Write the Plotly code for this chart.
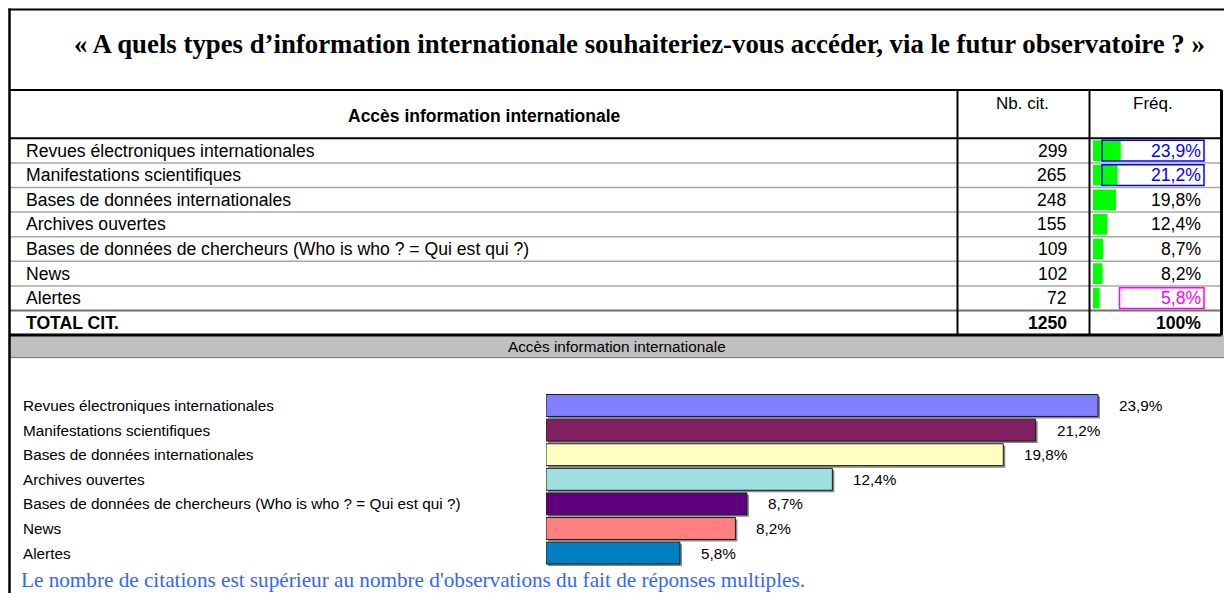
import plotly.graph_objects as go

# ---------------- data ----------------
title_text = "« A quels types d’information internationale souhaiteriez-vous accéder, via le futur observatoire ? »"
header_label = "Accès information internationale"
header_count = "Nb. cit."
header_freq = "Fréq."
chart_title = "Accès information internationale"
footnote = "Le nombre de citations est supérieur au nombre d'observations du fait de réponses multiples."

categories = [
    "Revues électroniques internationales",
    "Manifestations scientifiques",
    "Bases de données internationales",
    "Archives ouvertes",
    "Bases de données de chercheurs (Who is who ? = Qui est qui ?)",
    "News",
    "Alertes",
]
citations = [299, 265, 248, 155, 109, 102, 72]
frequencies = [23.9, 21.2, 19.8, 12.4, 8.7, 8.2, 5.8]
freq_labels = ["23,9%", "21,2%", "19,8%", "12,4%", "8,7%", "8,2%", "5,8%"]
total_label = "TOTAL CIT."
total_citations = 1250
total_freq_label = "100%"
freq_highlight = ["#0000FF", "#0000FF", None, None, None, None, "#FF00FF"]
bar_colors = ["#8080FF", "#802060", "#FFFFC0", "#A0E0E0", "#600080", "#FF8080", "#0080C0"]

# ---------------- geometry helpers ----------------
W, H = 1224, 593


def fx(x):
    return x / W


def fy(y):
    return 1 - y / H


SANS = "Liberation Sans, Arial, Helvetica, sans-serif"
SERIF = "Liberation Serif, Times New Roman, Times, serif"

T_TOP = 90
HEAD_BOT = 138.3
ROW_H = 24.6
N_ROWS = len(categories) + 1
T_BOT = HEAD_BOT + N_ROWS * ROW_H
X_LEFT = 9.5
X_C1 = 957.5
X_C2 = 1089.5
X_RIGHT = 1221.5

# table mini bars
MINI_X0 = 1093
MINI_PX_PER_PCT = 1.16

# lower chart
BAR_X0 = 546
BAR_PX_PER_PCT = 552 / 23.9
BAND_TOP = 393.2
BAND_BOT = 565.4
SH = 2  # shadow offset (px)

table_rows = categories + [total_label]

fig = go.Figure()

# shadow bars (lower chart) - drawn first (subplot xy)
fig.add_trace(go.Bar(
    x=frequencies, y=categories, orientation="h",
    marker=dict(color="#8a8a8a", line=dict(width=0)),
    xaxis="x", yaxis="y", hoverinfo="skip", showlegend=False,
))
# green mini bars in the table
fig.add_trace(go.Bar(
    x=frequencies, y=categories, orientation="h",
    marker=dict(color="#00FF00", line=dict(width=0)),
    width=0.84,
    xaxis="x2", yaxis="y2", showlegend=False,
))
# main bars (lower chart) - drawn over the shadow (subplot x3y3)
fig.add_trace(go.Bar(
    x=frequencies, y=categories, orientation="h",
    marker=dict(color=bar_colors, line=dict(color="#1a1a1a", width=1)),
    xaxis="x3", yaxis="y3", showlegend=False,
))

hidden = dict(visible=False, showgrid=False, zeroline=False, fixedrange=True)

fig.update_layout(
    width=W, height=H, autosize=False,
    margin=dict(l=0, r=0, t=0, b=0),
    paper_bgcolor="white", plot_bgcolor="rgba(0,0,0,0)",
    bargap=0.11,
    showlegend=False,
    xaxis=dict(domain=[fx(BAR_X0 + SH), 1], range=[0, (W - BAR_X0 - SH) / BAR_PX_PER_PCT], **hidden),
    yaxis=dict(domain=[fy(BAND_BOT + SH), fy(BAND_TOP + SH)], type="category",
               categoryorder="array", categoryarray=categories,
               range=[len(categories) - 0.5, -0.5], **hidden),
    xaxis2=dict(domain=[fx(MINI_X0), fx(X_RIGHT)],
                range=[0, (X_RIGHT - MINI_X0) / MINI_PX_PER_PCT], anchor="y2", **hidden),
    yaxis2=dict(domain=[fy(T_BOT), fy(HEAD_BOT)], type="category",
                categoryorder="array", categoryarray=table_rows,
                range=[N_ROWS - 0.5, -0.5], anchor="x2", **hidden),
    xaxis3=dict(domain=[fx(BAR_X0), 1], range=[0, (W - BAR_X0) / BAR_PX_PER_PCT],
                anchor="y3", **hidden),
    yaxis3=dict(domain=[fy(BAND_BOT), fy(BAND_TOP)], type="category",
                categoryorder="array", categoryarray=categories,
                range=[len(categories) - 0.5, -0.5], anchor="x3", **hidden),
)

shapes = []


def hline(y, x0, x1, color, width):
    shapes.append(dict(type="line", xref="paper", yref="paper",
                       x0=fx(x0), x1=fx(x1), y0=fy(y), y1=fy(y),
                       line=dict(color=color, width=width), layer="above"))


def vline(x, y0, y1, color, width):
    shapes.append(dict(type="line", xref="paper", yref="paper",
                       x0=fx(x), x1=fx(x), y0=fy(y0), y1=fy(y1),
                       line=dict(color=color, width=width), layer="above"))


# gray band under the table
shapes.append(dict(type="rect", xref="paper", yref="paper",
                   x0=fx(X_LEFT), x1=1, y0=fy(T_BOT + 22.5), y1=fy(T_BOT),
                   fillcolor="#C0C0C0", line=dict(width=0), layer="below"))
hline(T_BOT + 22.5, X_LEFT, W, "#707070", 1)

# highlight boxes in the Fréq. column
for i, col in enumerate(freq_highlight):
    if col:
        x0 = 1102 if col == "#0000FF" else 1119.5
        shapes.append(dict(type="rect", xref="paper", yref="y2",
                           x0=fx(x0), x1=fx(1204), y0=i - 0.42, y1=i + 0.42,
                           line=dict(color=col, width=1.5), layer="above"))

# row separators
for k in range(1, N_ROWS):
    y = HEAD_BOT + k * ROW_H
    if k == N_ROWS - 1:
        hline(y, X_LEFT, X_RIGHT, "#707070", 2)
    else:
        hline(y, X_LEFT, X_RIGHT, "#A8A8A8", 1.5)

# table frame
hline(T_TOP, X_LEFT, X_RIGHT, "black", 2)
hline(HEAD_BOT, X_LEFT, X_RIGHT, "black", 2)
hline(T_BOT, X_LEFT, X_RIGHT, "black", 3)
vline(X_C1, T_TOP, T_BOT, "black", 2)
vline(X_C2, T_TOP, T_BOT, "black", 2)
vline(X_RIGHT, T_TOP, T_BOT, "black", 3)

# outer frame
hline(9.5, X_LEFT - 1, W, "black", 2)
vline(X_LEFT, 8.5, H, "black", 2.5)

fig.update_layout(shapes=shapes)

ann = []


def text(x, y, s, size, xanchor="center", color="black", family=SANS, xref="paper", yref="paper", xshift=0):
    ann.append(dict(x=x, y=y, xref=xref, yref=yref, text=s, showarrow=False,
                    xanchor=xanchor, yanchor="middle", xshift=xshift,
                    font=dict(family=family, size=size, color=color)))


text(fx(639), fy(44), "<b>" + title_text + "</b>", 26.8, family=SERIF)
text(fx(484), fy(116), "<b>" + header_label + "</b>", 17.5)
text(fx(1022), fy(103), header_count, 17)
text(fx(1153), fy(103), header_freq, 17)

for i, cat in enumerate(categories):
    text(fx(24), cat, cat, 17.6, xanchor="left", yref="y2")
    text(fx(1069), cat, str(citations[i]), 17.6, xanchor="right", yref="y2")
    text(fx(1203), cat, freq_labels[i], 17.6, xanchor="right", yref="y2",
         color=freq_highlight[i] or "black")

text(fx(24), total_label, "<b>" + total_label + "</b>", 17.6, xanchor="left", yref="y2")
text(fx(1069), total_label, "<b>" + str(total_citations) + "</b>", 17.6, xanchor="right", yref="y2")
text(fx(1203), total_label, "<b>" + total_freq_label + "</b>", 17.6, xanchor="right", yref="y2")

text(fx(617), fy(T_BOT + 11.5), chart_title, 15.3)

for i, cat in enumerate(categories):
    text(fx(21), cat, cat, 15.3, xanchor="left", yref="y3")
    text(frequencies[i], cat, freq_labels[i], 15.3, xanchor="left", xref="x3", yref="y3", xshift=19)

text(fx(19), fy(580), footnote, 21.2, xanchor="left", color="#3366FF", family=SERIF)

fig.update_layout(annotations=ann)

fig.write_html("out.html", config={"displayModeBar": False, "staticPlot": True},
               post_script="document.body.style.margin='0';document.body.style.overflow='hidden';")
